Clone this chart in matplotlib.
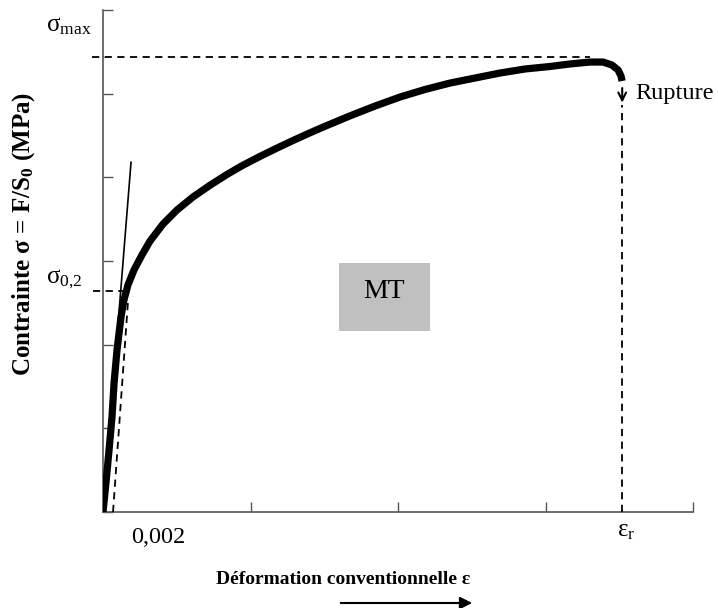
import matplotlib
matplotlib.use("Agg")
import matplotlib.pyplot as plt
from matplotlib.patches import Rectangle, FancyArrowPatch

plt.rcParams['font.family'] = ['Liberation Serif', 'DejaVu Serif']
plt.rcParams['mathtext.fontset'] = 'custom'
plt.rcParams['mathtext.rm'] = 'Liberation Serif'
plt.rcParams['mathtext.it'] = 'Liberation Serif:italic'
plt.rcParams['mathtext.bf'] = 'Liberation Serif:bold'

# Stress-strain curve (arbitrary units: x ticks 0..4, y ticks 0..6)
strain = [0.000, 0.020, 0.041, 0.061, 0.075, 0.095, 0.122, 0.142, 0.169, 0.210,
          0.264, 0.319, 0.407, 0.502, 0.610, 0.725, 0.841, 0.949, 1.064, 1.180,
          1.288, 1.403, 1.505, 1.675, 1.844, 2.014, 2.183, 2.353, 2.522, 2.692,
          2.861, 3.031, 3.166, 3.302, 3.390, 3.451, 3.492, 3.512, 3.519]
stress = [0.000, 0.347, 0.741, 1.135, 1.542, 1.936, 2.331, 2.534, 2.713, 2.892,
          3.072, 3.239, 3.442, 3.610, 3.765, 3.905, 4.035, 4.145, 4.250, 4.350,
          4.440, 4.532, 4.610, 4.735, 4.852, 4.960, 5.050, 5.127, 5.187, 5.247,
          5.295, 5.325, 5.355, 5.378, 5.378, 5.342, 5.283, 5.211, 5.151]

elastic_x = [0.0, 0.19]
elastic_y = [0.0, 4.18]
offset_x = [0.068, 0.17]
offset_y = [0.0, 2.53]
sigma02 = 2.64
sigma_max = 5.44
eps_r = 3.52
rupture_y = [5.10, 4.86]
x_ticks = [0, 1, 2, 3, 4]
y_ticks = [0, 1, 2, 3, 4, 5, 6]

W, H = 718, 608
fig = plt.figure(figsize=(W / 100, H / 100), dpi=100)
ax = fig.add_axes([103 / W, 1 - 512 / H, (693 - 103) / W, (512 - 10) / H])
ax.set_xlim(0, 4)
ax.set_ylim(0, 6)

def fp(x, y):
    return (x / W, 1 - y / H)

dash = (0, (4, 3))
ax.plot(strain, stress, color='black', lw=5.2, solid_capstyle='butt',
        solid_joinstyle='round', zorder=4)
ax.plot(elastic_x, elastic_y, color='black', lw=1.2, zorder=3)
ax.plot(offset_x, offset_y, color='black', lw=1.3, ls=dash, zorder=3)
ax.plot([-0.068, 0.15], [sigma02, sigma02], color='black', lw=1.3, ls=dash,
        clip_on=False, zorder=3)
ax.plot([-0.075, 3.30], [sigma_max, sigma_max], color='black', lw=1.3, ls=dash,
        clip_on=False, zorder=3)
ax.plot([eps_r, eps_r], [0, rupture_y[1]], color='black', lw=1.3, ls=dash, zorder=3)
ax.annotate('', xy=(eps_r, rupture_y[1]), xytext=(eps_r, rupture_y[0]),
            arrowprops=dict(arrowstyle='->', color='black', lw=1.5,
                            mutation_scale=14))

for s in ['top', 'right']:
    ax.spines[s].set_visible(False)
for s in ['left', 'bottom']:
    ax.spines[s].set_color('#555555')
    ax.spines[s].set_linewidth(1.2)
ax.set_xticks(x_ticks)
ax.set_yticks(y_ticks)
ax.tick_params(direction='in', length=7, width=1, color='#555555',
               labelleft=False, labelbottom=False)

# Gray box
ax.add_patch(Rectangle(((339 - 103) / 147.5, (512 - 331) / 83.67),
                       (430 - 339) / 147.5, (331 - 263) / 83.67,
                       facecolor='#c0c0c0', edgecolor='none', zorder=2))
fig.text(*fp(384, 292), 'MT', fontsize=20, ha='center', va='center')

fig.text(*fp(92, 31), r'σ$_{\mathrm{max}}$', fontsize=18, ha='right', va='baseline')
fig.text(*fp(83, 283), r'σ$_{\mathrm{0{,}2}}$', fontsize=18, ha='right', va='baseline')
fig.text(*fp(158, 527), '0,002', fontsize=17.5, ha='center', va='top')
fig.text(*fp(626, 520), r'ε$_{\mathrm{r}}$', fontsize=18, ha='center', va='top')
fig.text(*fp(635, 93), 'Rupture', fontsize=17.5, ha='left', va='center')

fig.text(*fp(343, 580), 'Déformation conventionnelle ε', fontsize=14,
         fontweight='bold', ha='center', va='center')
fig.text(*fp(24, 234), r'Contrainte σ = F/S$_{\mathbf{0}}$ (MPa)', fontsize=18,
         fontweight='bold', ha='center', va='center', rotation=90)
fig.add_artist(FancyArrowPatch(
    fp(338, 603), fp(475, 603), transform=fig.transFigure,
    arrowstyle='-|>', mutation_scale=18, color='black', lw=1.5))

fig.savefig('out.png', dpi=100)
